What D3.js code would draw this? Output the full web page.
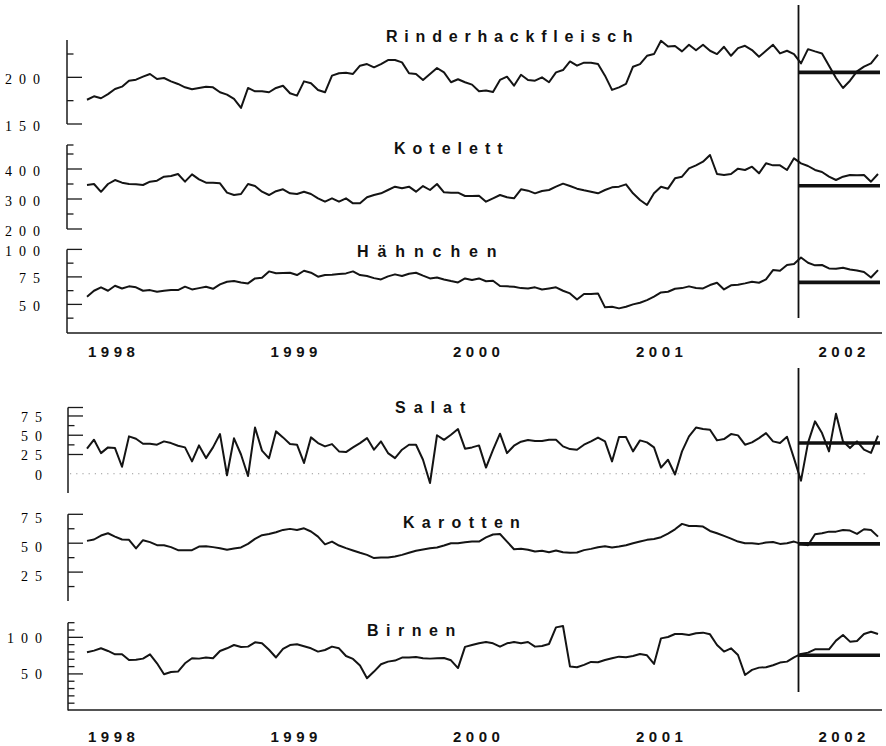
<!DOCTYPE html>
<html><head><meta charset="utf-8">
<script src="https://cdn.jsdelivr.net/npm/d3@7"></script>
<style>body{margin:0;background:#fff}svg{display:block}</style>
</head><body>
<script>
// ---------- data ----------
const seriesStart = "1998-01-05";   // first observation
const stepDays = 14;                 // spacing of observations
const cutoffDate = "2001-11-28";     // vertical marker
const yearLabels = ["1998", "1999", "2000", "2001", "2002"];
const titles = ["Rinderhackfleisch", "Kotelett", "Hähnchen", "Salat", "Karotten", "Birnen"];

const rinderhackfleisch = [
 176, 179.7, 177.6, 182, 187.5, 190, 196.4, 197.5, 200.7, 203.6,
 198.2, 199.3, 195.7, 192.9, 189.3, 187.2, 188.6, 190, 189.3, 184,
 181.5, 176.9, 167.3, 188.6, 185, 185, 184, 188.6, 191, 183,
 180.4, 195.7, 193.6, 186.5, 184, 201.8, 204.3, 205, 203.6, 212.5,
 214.2, 210.7, 214.2, 218.5, 218.5, 216, 204.3, 203.6, 197.2, 203.6,
 210, 205.3, 194.7, 197.9, 194.7, 192.2, 185, 186, 184.3, 197.2,
 200.7, 191, 202.8, 197.2, 196.4, 200, 194.7, 205.3, 207.8, 217,
 212.5, 215.7, 215.7, 214.2, 201.8, 186.5, 189.3, 192.9, 211.4, 214.2,
 223.1, 224.9, 239.1, 233.1, 233.5, 227.8, 235, 229, 234.9, 228.5,
 224.9, 232.7, 223.1, 231.3, 233.8, 229.2, 222, 228.5, 234.9, 225.6,
 228.5, 224.9, 214.9, 230.2, 227.8, 225.6, 212.5, 199.3, 188.6, 196.4,
 206.4, 211.4, 214.9, 224.2];

const kotelett = [
 346.7, 350, 324, 350, 363.3, 354.4, 350, 348.9, 346.7, 357.8,
 361.1, 374.4, 376.7, 383.3, 357.8, 382.2, 365.6, 354.4, 354.4, 352.2,
 321.1, 313.3, 316.7, 350, 343.3, 324.4, 313.3, 326, 332.2, 318.9,
 316.7, 324.4, 316.7, 302.2, 291.1, 302.2, 291.1, 302.2, 285.6, 285.6,
 305.6, 313.3, 318.9, 330, 341.1, 335.6, 341.1, 324.4, 343.3, 330,
 350, 322.2, 321.1, 321.1, 310, 310, 311.1, 291.1, 302.2, 313.3,
 305.6, 302.2, 332.2, 327.8, 318.9, 326.7, 330, 341.1, 351.1, 343.3,
 334.4, 328.9, 324.4, 318.9, 330, 338.9, 341.1, 348.9, 318.9, 296.7,
 280, 318.9, 341.1, 334.4, 368.9, 374.4, 402, 412, 424.4, 446.7,
 383.3, 380, 383.3, 401.1, 396.7, 407.8, 385.6, 418.9, 412.2, 412.2,
 396.7, 435.6, 418.9, 410, 396.7, 390, 374.4, 363.3, 374.4, 380,
 378.9, 380, 357.8, 383.3];

const haehnchen = [
 57, 62.4, 65.5, 62.4, 67, 64.5, 66.4, 65.5, 62.4, 63,
 61.5, 62.4, 63, 63, 66.1, 63.6, 64.8, 66.1, 64.2, 68.2,
 70.6, 71.2, 70, 69.1, 73.6, 74.2, 80, 78.3, 78.5, 78.8,
 76.7, 80.6, 78.8, 75.2, 76.7, 77, 77.6, 78.2, 80, 76.7,
 75.8, 73.9, 72.7, 75.5, 77.3, 75.8, 77.9, 78.8, 76.1, 73.6,
 74.5, 72.7, 71.2, 70, 73.6, 72.1, 73.6, 71, 71.5, 66.7,
 66.4, 66.1, 64.8, 64.5, 65.5, 63.6, 64.5, 65.5, 62.4, 60,
 54.5, 59.4, 59.4, 60, 47.3, 47.9, 46.4, 47.9, 50, 51.5,
 53.9, 57, 60.9, 61.5, 64.2, 64.8, 66.4, 65, 64.5, 67.6,
 69.7, 63.6, 67.3, 67.9, 69.1, 70.6, 69.7, 72.7, 81.2, 80.6,
 85.8, 86.7, 92.7, 87.9, 85.5, 85.8, 82.7, 82.4, 83.3, 81.8,
 80.9, 79.4, 74.5, 81.2];

const salat = [
 32.5, 44.2, 26.8, 34.2, 33.3, 9.1, 48.5, 45.5, 39, 39,
 37.7, 42, 39.8, 36.4, 34.2, 16, 36.8, 20.3, 34.2, 51.5,
 -2, 46, 25, -3, 60, 30, 20, 55, 47.2, 38.5,
 37.7, 14, 47.2, 39.8, 35.5, 38.5, 29, 28.1, 34.2, 39.8,
 46.3, 31.2, 42, 26.8, 20.3, 31.2, 37.7, 37.7, 18.2, -12,
 50, 44, 50.6, 58, 32.5, 34.2, 36.8, 8, 31, 52,
 26.8, 36.4, 41.6, 43.7, 42.4, 42.4, 44.2, 44.2, 35.5, 32,
 31.2, 37.7, 42, 47, 42, 16, 47.6, 47.6, 29, 43.3,
 40.7, 34.2, 8, 18.2, -1, 29, 48.5, 60, 58, 57.1,
 43.3, 45, 51.5, 49.8, 37.7, 40.7, 46.3, 52.8, 42, 39.8,
 48, 20, -9, 40, 68, 52.8, 29, 78, 42, 33.3,
 42, 31.2, 27, 49.4];

const karotten = [
 52, 53.2, 56.6, 58.6, 55.7, 53.2, 52.9, 45.5, 52.6, 50.9,
 48.3, 48.3, 46.6, 44, 44, 44, 47.1, 47.4, 46.6, 45.7,
 44.3, 45.4, 46.3, 49.4, 53.7, 56.9, 58, 59.5, 61.5, 62.4,
 61.5, 62.9, 60.1, 55.7, 49, 51.4, 48, 45.7, 43.7, 41.7,
 39.9, 37.1, 37.6, 37.6, 38.5, 39.9, 41.7, 43.4, 44.5, 45.7,
 46.3, 48, 50, 50, 50.9, 51.4, 51.4, 55, 57.5, 58,
 51.4, 44.8, 45.1, 44.3, 42.8, 43.4, 42.2, 43.7, 42.2, 41.7,
 42, 44, 45.1, 46.5, 47.4, 46.3, 47.1, 48.3, 50, 51.4,
 52.9, 53.7, 55.2, 58.3, 62, 66.7, 64.9, 64.9, 64.4, 60.6,
 58.6, 56.3, 54, 51.4, 50, 50, 49.4, 50.6, 51.1, 49.4,
 50, 51.4, 49.4, 48.3, 57.8, 58.6, 60, 60, 61.5, 60.9,
 58, 62.1, 61.5, 55.7];

const birnen = [
 79.5, 81.8, 85, 81.4, 76.8, 76.8, 69.1, 69.5, 70.9, 76.8,
 64.5, 49.5, 52.7, 53.2, 64.5, 71.4, 70.9, 72.3, 71.4, 81.4,
 85, 89.5, 86.8, 87.3, 93.2, 91.8, 83, 72.5, 84.1, 89.5,
 90.5, 87.7, 85, 80.5, 82.7, 87.3, 85, 74.5, 70.5, 61.4,
 44.1, 53.2, 63.2, 66.8, 68.2, 72.3, 72.3, 73.2, 71.4, 70.9,
 71.4, 71.8, 68.6, 58, 87, 89.5, 91.8, 93.6, 91.8, 87.3,
 91.8, 93.6, 91.8, 93.6, 87.3, 88.2, 90.9, 113.6, 115.5, 60,
 59.1, 62.3, 66.4, 66, 69.1, 71.4, 73.6, 72.7, 74.5, 77.3,
 75.5, 63.6, 98.6, 100.5, 104.5, 104.5, 103.2, 105.5, 106.4, 104.1,
 89.5, 80.5, 85, 75.9, 48.6, 55.5, 58.6, 59.1, 61.8, 65.5,
 66.8, 72.7, 77.3, 79.1, 83.6, 83.6, 83.6, 95.5, 103.2, 94.1,
 95, 104.5, 107.7, 104.5];

// level shown after the vertical marker (one per panel)
const cutoffLevels = [205.3, 344.4, 70, 40, 49.4, 75.5];

// tick labels and minor ticks per panel
const rinderLabels = ["150", "200"];
const rinderMinor = [175, 225];
const kotelettLabels = ["200", "300", "400"];
const kotelettMinor = [250, 350, 450, 480];
const haehnchenLabels = ["50", "75", "100"];
const haehnchenMinor = [37.5, 62.5, 87.5];
const salatLabels = ["0", "25", "50", "75"];
const salatMinor = [37.5, 62.5];
const karottenLabels = ["25", "50", "75"];
const karottenMinor = [12.5, 37.5, 62.5];
const birnenLabels = ["50", "100"];
const birnenMinor = [10, 20, 30, 40, 60, 70, 80, 90, 110, 120];

// ---------- drawing ----------
const W = 886, H = 746;
const parse = d3.utcParse("%Y-%m-%d");
const t0 = parse(seriesStart);
const n = rinderhackfleisch.length;
const dates = d3.range(n).map(i => d3.utcDay.offset(t0, stepDays * i));
const cut = parse(cutoffDate);
const x = d3.scaleUtc().domain([dates[0], dates[n - 1]]).range([87, 878]);

const svg = d3.select("body").append("svg").attr("width", W).attr("height", H)
  .style("background", "#fff");

const SERIF = "'Liberation Serif','Times New Roman',serif";
const SANS = "'Liberation Sans',Arial,Helvetica,sans-serif";

const panels = [
  {values: rinderhackfleisch, title: titles[0], level: cutoffLevels[0], domain: [150, 240], range: [124, 40],
   labels: rinderLabels, minor: rinderMinor, long: [], ax: 67, tx: 386, ty: 42, ls: 6.8, ldy: 6.5, lx: 40},
  {values: kotelett, title: titles[1], level: cutoffLevels[1], domain: [200, 480], range: [229, 145],
   labels: kotelettLabels, minor: kotelettMinor, long: [], ax: 67, tx: 394, ty: 154, ls: 7.0, ldy: 6.5, lx: 40},
  {values: haehnchen, title: titles[2], level: cutoffLevels[2], domain: [24, 100], range: [333, 249.4],
   labels: haehnchenLabels, minor: haehnchenMinor, long: [], ax: 67, tx: 357, ty: 257, ls: 8.9, ldy: 6.5, lx: 40},
  {values: salat, title: titles[3], level: cutoffLevels[3], domain: [-25, 86], range: [493, 407.5],
   labels: salatLabels, minor: salatMinor, long: [86], noTick: [0], zeroLine: true,
   ax: 68, tx: 395, ty: 413, ls: 8, ldy: 6, lx: 42},
  {values: karotten, title: titles[4], level: cutoffLevels[4], domain: [0, 75], range: [601, 514.3],
   labels: karottenLabels, minor: karottenMinor, long: [], ax: 68, tx: 403, ty: 528, ls: 7.3, ldy: 8.5, lx: 42},
  {values: birnen, title: titles[5], level: cutoffLevels[5], domain: [0, 120], range: [710.5, 622.7],
   labels: birnenLabels, minor: birnenMinor, long: [], ax: 68, tx: 367, ty: 636, ls: 7.5, ldy: 5.5, lx: 42}
];

const LONG = 15, SHORT = 6.5;

panels.forEach(p => {
  const y = d3.scaleLinear().domain(p.domain).range(p.range);
  const g = svg.append("g");
  // y axis line
  g.append("line").attr("x1", p.ax).attr("x2", p.ax)
    .attr("y1", y(p.domain[1])).attr("y2", y(p.domain[0]))
    .attr("stroke", "#1a1a1a").attr("stroke-width", 1.5);
  // ticks
  const longTicks = p.labels.map(Number).filter(v => !(p.noTick || []).includes(v)).concat(p.long);
  longTicks.forEach(v => g.append("line").attr("x1", p.ax).attr("x2", p.ax + LONG)
    .attr("y1", y(v)).attr("y2", y(v)).attr("stroke", "#1a1a1a").attr("stroke-width", 1.3));
  p.minor.forEach(v => g.append("line").attr("x1", p.ax).attr("x2", p.ax + SHORT)
    .attr("y1", y(v)).attr("y2", y(v)).attr("stroke", "#1a1a1a").attr("stroke-width", 1.3));
  // tick labels
  p.labels.forEach(l => g.append("text").attr("x", p.lx + 7).attr("y", y(+l) + p.ldy)
    .attr("text-anchor", "end").attr("font-family", SERIF).attr("font-size", 14)
    .attr("letter-spacing", 7).attr("fill", "#000").text(l));
  // zero line
  if (p.zeroLine) {
    g.append("line").attr("x1", 70).attr("x2", 866).attr("y1", y(0)).attr("y2", y(0))
      .attr("stroke", "#999").attr("stroke-width", 1).attr("stroke-dasharray", "1.2,5");
  }
  // title
  g.append("text").attr("x", p.tx).attr("y", p.ty).attr("font-family", SANS)
    .attr("font-weight", "bold").attr("font-size", 16).attr("letter-spacing", p.ls)
    .attr("fill", "#111").text(p.title);
  // series line
  const line = d3.line().x((d, i) => x(dates[i])).y(d => y(d));
  g.append("path").datum(p.values).attr("d", line).attr("fill", "none")
    .attr("stroke", "#141414").attr("stroke-width", 2).attr("stroke-linejoin", "round");
  // level after cutoff
  g.append("line").attr("x1", x(cut)).attr("x2", x(dates[n - 1]) + 2)
    .attr("y1", y(p.level)).attr("y2", y(p.level))
    .attr("stroke", "#111").attr("stroke-width", 3.6);
});

// x axes, year labels and cutoff markers for the two groups
const groups = [
  {axisY: 333, ax: 67, labelY: 357, vTop: 5, vBottom: 318},
  {axisY: 710, ax: 68, labelY: 742, vTop: 368, vBottom: 692}
];
groups.forEach(gr => {
  svg.append("line").attr("x1", gr.ax).attr("x2", 882).attr("y1", gr.axisY).attr("y2", gr.axisY)
    .attr("stroke", "#1a1a1a").attr("stroke-width", 1.5);
  yearLabels.forEach(yl => svg.append("text")
    .attr("x", x(new Date(Date.UTC(+yl, 0, 1))) + 3).attr("y", gr.labelY)
    .attr("font-family", SANS).attr("font-weight", "bold").attr("font-size", 15)
    .attr("letter-spacing", 4.5).attr("fill", "#111").text(yl));
  svg.append("line").attr("x1", x(cut)).attr("x2", x(cut)).attr("y1", gr.vTop).attr("y2", gr.vBottom)
    .attr("stroke", "#111").attr("stroke-width", 1.8);
});
</script>
</body></html>
